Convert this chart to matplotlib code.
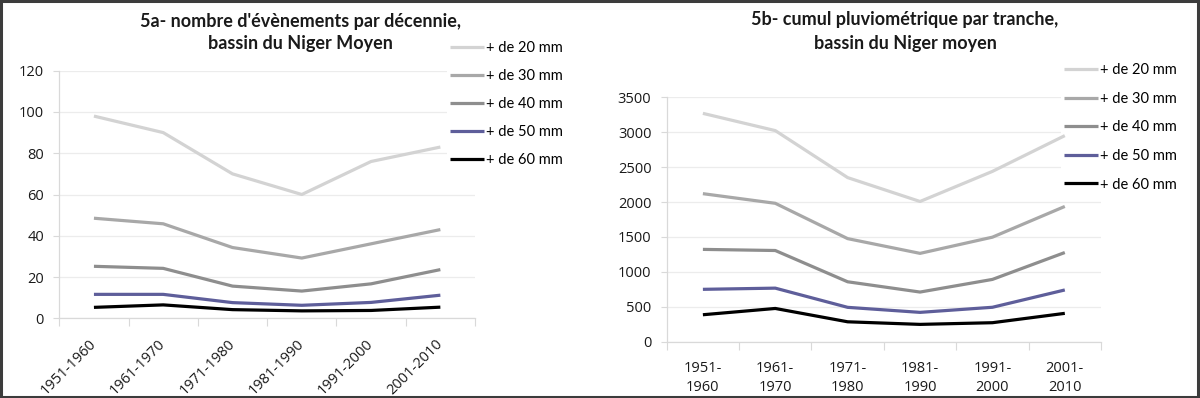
import numpy as np
import matplotlib
matplotlib.use("Agg")
import matplotlib.pyplot as plt
from matplotlib.patches import Rectangle

decades = ["1951-1960", "1961-1970", "1971-1980", "1981-1990", "1991-2000", "2001-2010"]
series_labels = ["+ de 20 mm", "+ de 30 mm", "+ de 40 mm", "+ de 50 mm", "+ de 60 mm"]
colors = ["#d3d3d3", "#a8a8a8", "#8e8e8e", "#5e5e9a", "#000000"]

# 5a - number of events per decade
events_20 = [98, 90, 70, 60, 76, 83]
events_30 = [48.5, 45.8, 34.3, 29.2, 36.1, 43.0]
events_40 = [25.2, 24.2, 15.6, 13.2, 16.7, 23.6]
events_50 = [11.6, 11.6, 7.6, 6.3, 7.7, 11.2]
events_60 = [5.3, 6.5, 4.2, 3.6, 3.8, 5.4]

# 5b - cumulative rainfall per class
cumul_20 = [3270, 3023, 2350, 2008, 2439, 2951]
cumul_30 = [2120, 1982, 1476, 1265, 1497, 1937]
cumul_40 = [1322, 1306, 858, 711, 892, 1277]
cumul_50 = [750, 767, 492, 420, 493, 741]
cumul_60 = [386, 476, 285, 248, 272, 406]

events = [events_20, events_30, events_40, events_50, events_60]
cumul = [cumul_20, cumul_30, cumul_40, cumul_50, cumul_60]

TXT = "#1a1a1a"
AX = "#d9d9d9"
TICKFONT = "Open Sans"

fig = plt.figure(figsize=(12, 3.98), dpi=100)
W, H = 1200, 398


def box(x0, x1, ytop, ybot):
    return [x0 / W, 1 - ybot / H, (x1 - x0) / W, (ybot - ytop) / H]


def style(ax, ymax, step):
    x = np.arange(len(decades))
    ax.set_xlim(-0.5, len(decades) - 0.5)
    ax.set_ylim(0, ymax)
    ax.set_yticks(np.arange(0, ymax + 1, step))
    ax.set_xticks(np.arange(-0.5, len(decades)), minor=True)
    ax.tick_params(axis="x", which="minor", length=6, color=AX, width=0.8)
    ax.tick_params(axis="x", which="major", length=0)
    ax.tick_params(axis="y", length=4, color=AX, width=0.8, pad=7,
                   labelsize=10.5, labelcolor=TXT)
    for t in ax.get_yticklabels():
        t.set_family(TICKFONT)
    ax.grid(axis="y", color="#ececec", linewidth=0.9, zorder=0)
    ax.set_axisbelow(True)
    for s in ["top", "right"]:
        ax.spines[s].set_visible(False)
    for s in ["left", "bottom"]:
        ax.spines[s].set_color(AX)
        ax.spines[s].set_linewidth(0.9)
    return x


def draw(ax, data):
    x = np.arange(len(decades))
    for vals, c, lab in zip(data, colors, series_labels):
        ax.plot(x, vals, color=c, linewidth=2.3, label=lab, zorder=3,
                solid_capstyle="butt")


# ---- 5a
ax1 = fig.add_axes(box(59.3, 475, 70.7, 318.3))
x = style(ax1, 120, 20)
draw(ax1, events)
ax1.set_xticks(x)
ax1.set_xticklabels(decades, rotation=45, ha="right", va="center",
                    rotation_mode="anchor", fontsize=10.5, color=TXT,
                    family=TICKFONT)
ax1.tick_params(axis="x", which="major", pad=17)
leg1 = ax1.legend(loc="upper left", bbox_to_anchor=(440 / W, 1 - 31 / H),
                  bbox_transform=fig.transFigure, frameon=True, framealpha=1,
                  edgecolor="none", facecolor="white", fancybox=False,
                  borderpad=0.2, handlelength=2.3, handletextpad=0.15,
                  labelspacing=0.95, prop={"family": "Lato", "size": 10.5})
leg1.set_zorder(2.5)

fig.text(300 / W, 1 - 21 / H, "5a- nombre d'évènements par décennie,",
         ha="center", va="center", fontsize=13, fontweight="bold",
         family="Lato", color=TXT)
fig.text(300 / W, 1 - 43 / H, "bassin du Niger Moyen",
         ha="center", va="center", fontsize=13, fontweight="bold",
         family="Lato", color=TXT)

# ---- 5b
ax2 = fig.add_axes(box(666.7, 1101, 97.3, 341.7))
x = style(ax2, 3500, 500)
draw(ax2, cumul)
ax2.set_xticks(x)
ax2.set_xticklabels([d.replace("-", "-\n") for d in decades], fontsize=10.5,
                    color=TXT, linespacing=1.35, family=TICKFONT)
ax2.tick_params(axis="x", which="major", pad=14)
leg2 = ax2.legend(loc="upper left", bbox_to_anchor=(1054 / W, 1 - 53 / H),
                  bbox_transform=fig.transFigure, frameon=True, framealpha=1,
                  edgecolor="none", facecolor="white", fancybox=False,
                  borderpad=0.2, handlelength=2.3, handletextpad=0.15,
                  labelspacing=1.0, prop={"family": "Lato", "size": 10.5})
leg2.set_zorder(2.5)

fig.text(905 / W, 1 - 19 / H, "5b- cumul pluviométrique par tranche,",
         ha="center", va="center", fontsize=13, fontweight="bold",
         family="Lato", color=TXT)
fig.text(905 / W, 1 - 43 / H, "bassin du Niger moyen",
         ha="center", va="center", fontsize=13, fontweight="bold",
         family="Lato", color=TXT)

# outer frame
fig.patches.append(Rectangle((0.001, 0.002), 0.997, 0.995, transform=fig.transFigure,
                             fill=False, edgecolor="#3c3c3c", linewidth=2.2))

fig.savefig("out.png", dpi=100)
